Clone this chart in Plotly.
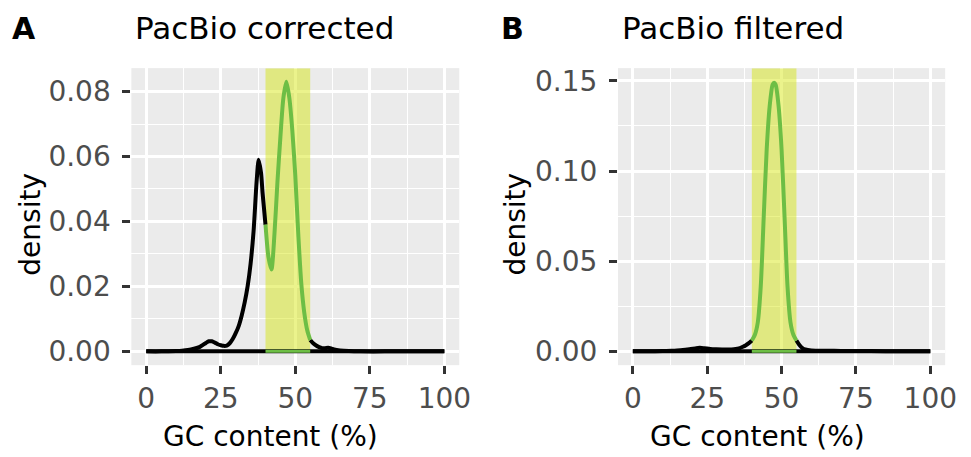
import plotly.graph_objects as go

# ---------------- data ----------------
GC_A = [0, 5, 10, 12, 14, 16, 18, 19, 20, 21, 22, 23, 24, 25, 26, 27, 28, 29, 30, 31, 32, 33, 34, 35, 36, 37, 37.7,
        38.5, 39, 39.5, 40, 41, 42, 43, 44, 45, 46, 47, 48, 49, 50, 51, 52, 53, 54, 55,
        56, 57, 58, 59, 60, 61, 62, 63, 65, 68, 72, 80, 90, 100]
DENS_A = [0, 0, 0.0001, 0.0002, 0.0004, 0.0008, 0.0014, 0.002, 0.0026, 0.0031, 0.0031, 0.0027, 0.0022, 0.0019,
          0.0017, 0.0018, 0.0025, 0.0038, 0.0056, 0.0078, 0.011, 0.015, 0.020, 0.027, 0.037, 0.052, 0.059,
          0.055, 0.049, 0.044, 0.039, 0.029, 0.0252, 0.036, 0.052, 0.066, 0.078, 0.083, 0.078, 0.068, 0.054,
          0.036, 0.021, 0.012, 0.0065, 0.0035,
          0.0025, 0.0018, 0.0013, 0.001, 0.001, 0.0011, 0.0009, 0.0006, 0.0003, 0.0001, 0, 0, 0, 0]

GC_B = [0, 5, 10, 13, 16, 19, 21, 22.5, 24, 26, 28, 30, 32, 34, 36, 37, 38, 39, 40, 41, 42, 43, 44, 45, 46, 47,
        47.5, 48, 49, 50, 51, 52, 53, 54, 55, 56, 57, 58, 60, 65, 70, 80, 90, 100]
DENS_B = [0, 0, 0.0001, 0.0003, 0.0006, 0.0011, 0.0016, 0.0019, 0.0017, 0.0013, 0.0011, 0.001, 0.001, 0.0012,
          0.0018, 0.0025, 0.0034, 0.0045, 0.006, 0.009, 0.016, 0.036, 0.0746, 0.112, 0.136, 0.148,
          0.149, 0.148, 0.136, 0.112, 0.0746, 0.036, 0.016, 0.009, 0.006, 0.0035, 0.0018, 0.001, 0.0005,
          0.0003, 0.0002, 0.0001, 0, 0]

HIGHLIGHT = [40, 55]           # GC range highlighted
X_TICKS = [0, 25, 50, 75, 100]
Y_TICKS_A = [0.00, 0.02, 0.04, 0.06, 0.08]
Y_TICKS_B = [0.00, 0.05, 0.10, 0.15]
TITLES = ["PacBio corrected", "PacBio filtered"]
TAGS = ["A", "B"]

# ---------------- style ----------------
W, H = 971, 457
FONT = "DejaVu Sans"
BG = "#EBEBEB"
GREEN = "#6DBE45"
RECT = "rgba(211,228,0,0.45)"
LW = 4


def px_x(p):
    return p / W


def px_y(p):
    return 1 - p / H


fig = go.Figure()

panels = [
    dict(gc=GC_A, d=DENS_A, xa="x", ya="y", yt=Y_TICKS_A, yr=[-0.00425, 0.0872], ydt=0.01,
         dom=[133 / W, 465 / W]),
    dict(gc=GC_B, d=DENS_B, xa="x2", ya="y2", yt=Y_TICKS_B, yr=[-0.0077, 0.1571], ydt=0.025,
         dom=[625.7 / W, 957 / W]),
]

ydom = [(H - 367) / H, (H - 66) / H]

for i, p in enumerate(panels):
    gc, d = p["gc"], p["d"]
    lo, hi = HIGHLIGHT
    # black density outline: baseline + parts outside the highlighted range
    fig.add_trace(go.Scatter(x=[min(gc), max(gc)], y=[0, 0], mode="lines",
                             line=dict(color="black", width=LW), xaxis=p["xa"], yaxis=p["ya"],
                             hoverinfo="skip", showlegend=False))
    for sel in (lambda x: x <= lo, lambda x: x >= hi):
        bx = [x for x in gc if sel(x)]
        by = [y for x, y in zip(gc, d) if sel(x)]
        fig.add_trace(go.Scatter(x=bx, y=by, mode="lines",
                                 line=dict(color="black", width=LW, shape="spline", smoothing=0.7),
                                 xaxis=p["xa"], yaxis=p["ya"], showlegend=False))
    # green subset
    gx = [x for x in gc if lo <= x <= hi]
    gy = [y for x, y in zip(gc, d) if lo <= x <= hi]
    fig.add_trace(go.Scatter(x=[gx[0], gx[-1]], y=[0, 0], mode="lines",
                             line=dict(color=GREEN, width=3), xaxis=p["xa"], yaxis=p["ya"],
                             hoverinfo="skip", showlegend=False))
    fig.add_trace(go.Scatter(x=gx, y=gy, mode="lines",
                             line=dict(color=GREEN, width=LW, shape="spline", smoothing=0.7),
                             xaxis=p["xa"], yaxis=p["ya"], showlegend=False))

    fig.add_shape(type="rect", xref=p["xa"], yref=p["ya"], x0=lo, x1=hi,
                  y0=0, y1=p["yr"][1], fillcolor=RECT, line=dict(width=0), layer="between")

    suffix = "" if i == 0 else "2"
    axis_common = dict(showline=False, zeroline=False, ticks="outside", ticklen=8, tickwidth=2.5,
                       tickcolor="#333333", gridcolor="white", gridwidth=2.6,
                       tickfont=dict(family=FONT, size=28, color="#4D4D4D"))
    fig.update_layout(**{
        "xaxis" + suffix: dict(axis_common, domain=p["dom"], range=[-5, 105], tickvals=X_TICKS,
                               ticktext=[str(t) for t in X_TICKS], anchor="y" + suffix,
                               ticklabelstandoff=0,
                               minor=dict(tickvals=[12.5, 37.5, 62.5, 87.5], showgrid=True,
                                          gridcolor="white", gridwidth=1.3, ticks="")),
        "yaxis" + suffix: dict(axis_common, domain=ydom, range=p["yr"], tickvals=p["yt"],
                               ticktext=[f"{t:.2f}" for t in p["yt"]], anchor="x" + suffix,
                               ticklabelstandoff=6,
                               minor=dict(tickvals=[t + p["ydt"] for t in p["yt"]], showgrid=True,
                                          gridcolor="white", gridwidth=1.3, ticks="")),
    })

annotations = []
tag_x = [10, 505]
title_x = [135, 628]
dens_x = [30, 521]
gc_x = [274, 767]
for i in range(2):
    annotations.append(dict(text=TAGS[i], x=px_x(tag_x[i]), y=px_y(26), xref="paper", yref="paper",
                            xanchor="left", yanchor="middle", showarrow=False,
                            font=dict(family=FONT, size=30, color="black", weight="bold")))
    annotations.append(dict(text=TITLES[i], x=px_x(title_x[i]), y=px_y(25), xref="paper", yref="paper",
                            xanchor="left", yanchor="middle", showarrow=False,
                            font=dict(family=FONT, size=31, color="black")))
    annotations.append(dict(text="density", x=px_x(dens_x[i]), y=px_y(224), xref="paper", yref="paper",
                            xanchor="center", yanchor="middle", textangle=-90, showarrow=False,
                            font=dict(family=FONT, size=28, color="black")))
    annotations.append(dict(text="GC content (%)", x=px_x(gc_x[i]), y=px_y(439), xref="paper",
                            yref="paper", xanchor="center", yanchor="middle", showarrow=False,
                            font=dict(family=FONT, size=28, color="black")))

fig.update_layout(width=W, height=H, margin=dict(l=0, r=0, t=0, b=0),
                  paper_bgcolor="white", plot_bgcolor=BG, annotations=annotations,
                  showlegend=False)

fig.write_html("out.html", config={"displayModeBar": False},
               post_script="document.body.style.margin='0';document.body.style.overflow='hidden';")
